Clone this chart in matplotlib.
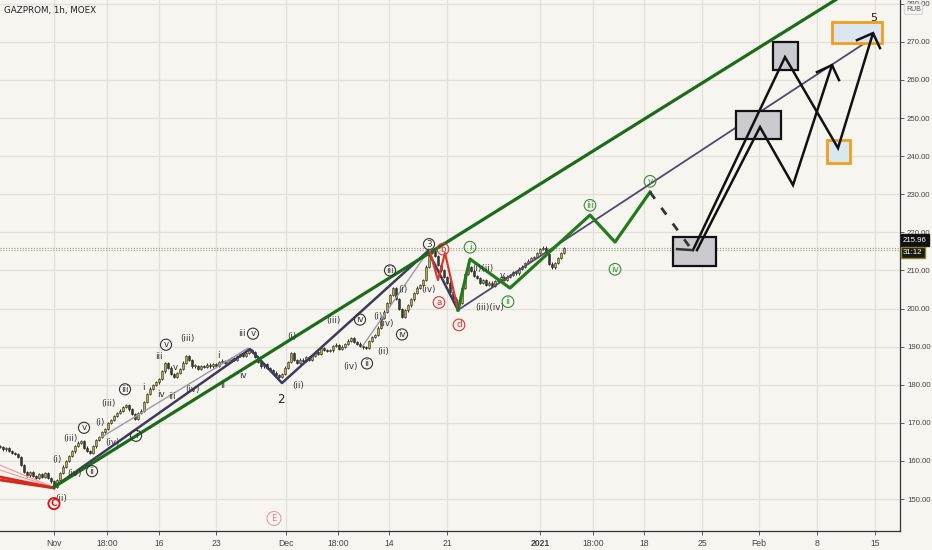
import numpy as np
import matplotlib
matplotlib.use("Agg")
import matplotlib.pyplot as plt
from matplotlib.patches import Rectangle

# ---------------- data ----------------
title = "GAZPROM, 1h, MOEX"
closes = [163.6,163.0,163.4,162.6,162.0,161.8,161.0,159.0,157.0,156.2,157.0,156.0,155.6,156.5,155.8,156.8,155.5,154.6,153.2,
          155.0,156.8,158.5,160.0,161.2,162.5,164.0,164.8,165.2,163.5,162.6,162.2,163.8,165.5,166.2,167.5,168.3,170.0,170.8,
          171.8,172.5,173.2,174.2,174.6,173.5,172.3,171.0,172.5,173.2,175.5,177.5,179.0,180.0,180.6,181.5,183.5,185.6,184.5,
          182.8,182.0,183.0,184.2,185.8,187.6,186.4,184.8,185.0,184.2,185.0,184.6,185.3,184.8,185.5,185.0,186.0,186.3,185.8,
          186.5,187.0,186.6,187.5,188.0,187.6,188.4,189.0,188.6,187.2,186.0,184.8,185.5,184.3,183.8,183.2,182.6,182.0,182.8,
          184.5,186.0,188.2,186.4,185.8,186.6,186.2,187.2,186.5,187.5,188.6,188.0,189.6,189.2,188.8,189.0,190.2,190.5,189.4,
          190.0,190.6,191.6,192.3,191.2,190.8,190.2,189.8,189.6,191.5,192.6,193.0,195.0,197.5,199.2,201.5,203.5,205.4,202.5,
          199.8,197.8,199.5,200.8,202.4,204.0,205.5,206.2,207.5,211.0,214.5,215.2,213.8,211.5,210.0,208.2,206.8,204.3,202.6,
          200.8,201.5,205.5,209.0,210.8,209.8,208.6,208.0,206.8,207.4,206.2,206.8,206.0,207.2,207.8,208.2,207.6,208.4,208.8,
          209.6,209.2,210.5,211.0,212.0,212.6,213.2,213.6,214.5,215.6,216.0,214.2,211.8,210.8,212.0,213.2,214.5,215.96]
last_price = 215.96
prev_close = 215.40

x_tick_pos = [54, 107, 159, 216, 286, 338, 389, 447, 540, 593, 644, 702, 759, 817, 875]
x_tick_lab = ['Nov', '18:00', '16', '23', 'Dec', '18:00', '14', '21', '2021', '18:00', '18', '25', 'Feb', '8', '15']
y_ticks = list(range(150, 290, 10))

# drawn wave paths (bar-position, price)
green_channel_x = [54, 840]
green_channel_y = [153.15, 281.76]
purple_line_x = [458, 880]
purple_line_y = [199.61, 272.31]
navy_wave_x = [54, 250, 282, 428, 458]
navy_wave_y = [153.15, 189.37, 180.45, 215.09, 199.61]
gray_wave1_x = [100, 248]
gray_wave1_y = [166.0, 189.6]
gray_wave2_x = [362, 428]
gray_wave2_y = [189.9, 215.0]
red_wave_x = [430, 438, 445, 458]
red_wave_y = [214.83, 207.48, 214.57, 199.61]
red_left = [([0, 54], [155.8, 152.9]), ([0, 54], [155.0, 152.9])]
pink_left = [([0, 54], [158.9, 153.0]), ([0, 54], [157.6, 153.0])]
green_wave_x = [458, 470, 510, 590, 615, 650]
green_wave_y = [199.61, 212.99, 205.38, 224.54, 217.45, 230.58]
dash_x = [650, 692]
dash_y = [230.58, 215.35]
proj1_x = [693, 785, 838, 873, 880]
proj1_y = [215.35, 266.01, 242.13, 272.31, 268.37]
proj2_x = [697, 760, 793, 832, 839]
proj2_y = [215.35, 247.64, 232.41, 263.91, 259.97]
# boxes: (x0, x1, y0, y1)
gray_boxes = [(673, 716, 211.15, 218.77), (736, 781, 244.49, 251.84), (773, 798, 262.60, 269.95)]
orange_boxes = [(827, 850, 238.19, 244.23), (832, 882, 269.69, 275.20)]

# labels: (x, y, text, colour, circled)
labels = [
    (61, 150.2, '(ii)', 'k', False), (57, 160.4, '(i)', 'k', False), (70, 165.8, '(iii)', 'k', False),
    (84, 168.7, 'v', 'k', True), (74, 156.8, '(iv)', 'k', False), (92, 157.3, 'ii', 'k', True),
    (100, 170.2, '(i)', 'k', False), (108, 175.2, '(iii)', 'k', False), (125, 178.8, 'iii', 'k', True),
    (113, 164.8, '(iv)', 'k', False), (136, 166.6, 'i', 'k', True), (143, 179.4, 'i', 'k', False),
    (161, 177.5, 'iv', 'k', False), (159, 187.3, 'iii', 'k', False), (166, 190.5, 'v', 'k', True),
    (172, 177.0, 'iii', 'k', False), (175, 184.6, 'v', 'k', False), (187, 192.1, '(iii)', 'k', False),
    (193, 178.8, '(iv)', 'k', False), (218, 187.6, 'i', 'k', False), (223, 179.7, 'ii', 'k', False),
    (243, 182.5, 'iv', 'k', False), (242, 193.4, 'iii', 'k', False), (253, 193.4, 'v', 'k', True),
    (292, 192.7, '(i)', 'k', False), (298, 179.9, '(ii)', 'k', False), (333, 196.9, '(iii)', 'k', False),
    (360, 197.1, 'iv', 'k', True), (350, 184.8, '(iv)', 'k', False), (367, 185.6, 'ii', 'k', True),
    (378, 198.0, '(i)', 'k', False), (383, 188.6, '(ii)', 'k', False), (390, 210.0, 'iii', 'k', True),
    (403, 205.0, '(i)', 'k', False), (402, 193.2, 'iv', 'k', True), (387, 196.0, '(iv)', 'k', False),
    (428, 205.0, '(iv)', 'k', False), (429, 216.9, '3', 'k', True),
    (483, 210.4, '(i)(ii)', 'k', False), (502, 208.6, 'v', 'k', False), (490, 200.4, '(iii)(iv)', 'k', False),
]
red_labels = [(443, 215.6, 'b'), (439, 201.6, 'a'), (459, 195.7, 'd')]
green_labels = [(470, 216.1, 'i'), (508, 201.8, 'ii'), (590, 227.1, 'iii'), (615, 210.3, 'iv'), (650, 233.4, 'v')]

# ---------------- figure ----------------
BG = '#f7f5f0'
GRID = '#e3e0da'
AXF = 'Liberation Sans'
fig = plt.figure(figsize=(9.32, 5.50), dpi=100, facecolor=BG)
ax = fig.add_axes([0, 19 / 550, 900 / 932, 531 / 550], facecolor=BG)
ax.set_xlim(0, 900)
ax.set_ylim(141.6, 281.0)

for xt in x_tick_pos:
    ax.axvline(xt, color=GRID, lw=0.9, zorder=0)
for yt in y_ticks:
    ax.axhline(yt, color=GRID, lw=0.9, zorder=0)

# candles
xs = np.arange(len(closes)) * 3.0
opens = [closes[0]] + closes[:-1]
for xi, o, c in zip(xs, opens, closes):
    up = c >= o
    lo, hi = min(o, c), max(o, c)
    if hi - lo < 0.35:
        hi = lo + 0.35
    ax.vlines(xi, lo - 0.3, hi + 0.3, color='#2a2a22', lw=0.7, zorder=2)
    ax.add_patch(Rectangle((xi - 0.9, lo), 1.8, hi - lo, facecolor='#b4ad55' if up else '#3a3a30',
                           edgecolor='#2a2a22', lw=0.4, zorder=3))

# dotted price lines
ax.axhline(last_price, color='#9a9a9a', lw=0.8, ls=(0, (1, 1.5)), zorder=1)
ax.axhline(prev_close, color='#b0a880', lw=0.8, ls=(0, (1, 1.5)), zorder=1)

# lines
for xx, yy in pink_left:
    ax.plot(xx, yy, color='#f0a0a0', lw=0.9, zorder=4)
for xx, yy in red_left:
    ax.plot(xx, yy, color='#d42a1e', lw=2.0, zorder=4)
ax.plot(gray_wave1_x, gray_wave1_y, color='#9a9aa6', lw=1.0, zorder=4)
ax.plot(gray_wave2_x, gray_wave2_y, color='#9a9aa6', lw=1.0, zorder=4)
ax.plot(navy_wave_x, navy_wave_y, color='#3d3a5c', lw=1.8, zorder=5)
ax.plot(purple_line_x, purple_line_y, color='#4f4a68', lw=1.3, zorder=5)
ax.plot(green_channel_x, green_channel_y, color='#1a6b1a', lw=2.3, zorder=6)
ax.plot(red_wave_x, red_wave_y, color='#d43a30', lw=1.6, zorder=6)
ax.plot(green_wave_x, green_wave_y, color='#237a1e', lw=2.3, zorder=6)
ax.plot(dash_x, dash_y, color='#333333', lw=2.0, ls=(0, (3, 4)), zorder=6)

for x0, x1, y0, y1 in gray_boxes:
    ax.add_patch(Rectangle((x0, y0), x1 - x0, y1 - y0, facecolor='#cbcbcf', edgecolor='#111111',
                           lw=1.6, zorder=5))
for x0, x1, y0, y1 in orange_boxes:
    ax.add_patch(Rectangle((x0, y0), x1 - x0, y1 - y0, facecolor='#dbe7f0', edgecolor='#f29e1c',
                           lw=2.0, zorder=5))

ax.plot(proj1_x, proj1_y, color='#111111', lw=1.8, zorder=7, solid_joinstyle='miter')
ax.plot(proj2_x, proj2_y, color='#111111', lw=1.8, zorder=7, solid_joinstyle='miter')
ax.plot([817, 832], [262.07, 263.91], color='#111111', lw=1.8, zorder=7)
ax.plot([857, 873], [270.47, 272.31], color='#111111', lw=1.8, zorder=7)
ax.plot([677, 692], [215.60, 215.35], color='#333333', lw=1.8, zorder=7)

# labels
lab_font = dict(fontsize=6.3, ha='center', va='center', zorder=8, family='DejaVu Sans')
for x, y, t, c, circ in labels:
    col = '#333333'
    if circ:
        ax.text(x, y, t, color=col, bbox=dict(boxstyle='circle,pad=0.12', fc='none', ec=col, lw=0.8), **lab_font)
    else:
        ax.text(x, y, t, color=col, **lab_font)
for x, y, t in red_labels:
    ax.text(x, y, t, color='#e0302a', bbox=dict(boxstyle='circle,pad=0.15', fc='none', ec='#e0302a', lw=0.8),
            **lab_font)
for x, y, t in green_labels:
    ax.text(x, y, t, color='#3a8a3a', bbox=dict(boxstyle='circle,pad=0.15', fc='none', ec='#3a8a3a', lw=0.8),
            **lab_font)
ax.text(54, 148.8, 'C', color='#d0201a', fontsize=6.5, fontweight='bold', ha='center', va='center', zorder=8,
        bbox=dict(boxstyle='circle,pad=0.12', fc='none', ec='#d0201a', lw=1.4))
ax.text(274, 144.9, 'E', color='#e87878', fontsize=6, ha='center', va='center', zorder=8,
        bbox=dict(boxstyle='circle,pad=0.3', fc='none', ec='#e8a0a0', lw=0.8))
ax.text(281, 176.0, '2', color='#222222', fontsize=8.5, ha='center', va='center', zorder=8)
ax.text(874, 276.4, '5', color='#222222', fontsize=8, ha='center', va='center', zorder=8)

ax.text(4, 278.2, title, color='#222222', fontsize=6.3, ha='left', va='center', zorder=9)

# axes style
for s in ['left', 'top']:
    ax.spines[s].set_visible(False)
ax.spines['right'].set_color('#333333')
ax.spines['bottom'].set_color('#333333')
ax.spines['right'].set_linewidth(0.9)
ax.spines['bottom'].set_linewidth(0.9)
ax.yaxis.tick_right()
ax.set_yticks(y_ticks)
ax.set_yticklabels([f'{v:.2f}' for v in y_ticks], family=AXF)
ax.set_xticks(x_tick_pos)
ax.set_xticklabels(x_tick_lab, family=AXF)
ax.tick_params(axis='y', colors='#444444', labelsize=5.6, length=3, width=0.6, pad=2)
ax.tick_params(axis='x', colors='#444444', labelsize=6.2, length=3, width=0.6, pad=3)
for lbl in ax.get_xticklabels():
    if lbl.get_text() == '2021':
        lbl.set_fontweight('bold')

# price tags on the axis
ax.text(903, 217.98, '215.96', color='white', fontsize=5.6, family=AXF, ha='left', va='center', clip_on=False,
        zorder=10, bbox=dict(boxstyle='square,pad=0.3', fc='#111111', ec='#111111'))
ax.text(903, 214.70, '31:12', color='white', fontsize=5.6, family=AXF, ha='left', va='center', clip_on=False,
        zorder=10, bbox=dict(boxstyle='square,pad=0.3', fc='#1a1a10', ec='#8a8030'))
ax.text(906, 278.6, 'RUB', color='#555555', fontsize=5.0, family=AXF, ha='left', va='center', clip_on=False,
        zorder=10, bbox=dict(boxstyle='round,pad=0.25', fc=BG, ec='#cccccc', lw=0.6))

fig.savefig('out.png', dpi=100, facecolor=BG)
